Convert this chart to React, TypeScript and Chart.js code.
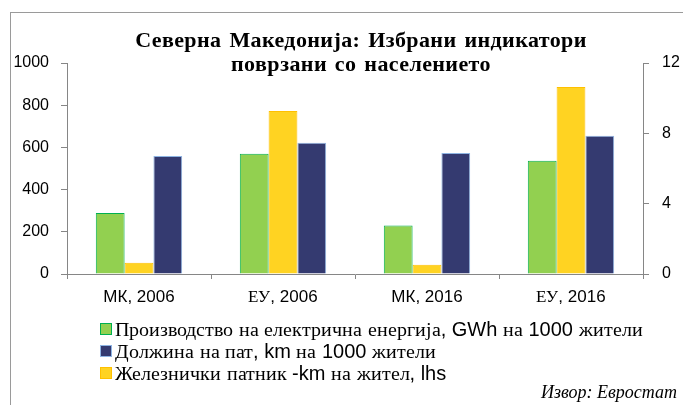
import React, { useEffect, useRef } from "react";
import { Chart, registerables } from "chart.js";

Chart.register(...registerables);

const categories = ["МК, 2006", "ЕУ, 2006", "МК, 2016", "ЕУ, 2016"];
const electricity = [3.47, 6.84, 2.76, 6.44]; // GWh per 1000 inhabitants (rhs)
const railway = [53, 772, 44, 886]; // passenger-km per inhabitant (lhs)
const roads = [6.71, 7.47, 6.88, 7.86]; // km per 1000 inhabitants (rhs)
const leftTicks = [0, 200, 400, 600, 800, 1000];
const rightTicks = [0, 4, 8, 12];

const seriesLabels = [
  "Производство на електрична енергија, GWh на 1000 жители",
  "Должина на пат, km на 1000 жители",
  "Железнички патник -km на жител, lhs",
];
const titleLines = ["Северна Македонија: Избрани индикатори", "поврзани со населението"];
const sourceText = "Извор: Евростат";

const GREEN = "#92d050";
const GREEN_B = "#00b050";
const BLUE = "#343a70";
const BLUE_B = "#8eb4e3";
const YELLOW = "#ffd322";
const YELLOW_B = "#ffc000";
const AXIS = "#868686";

const MIX = "CyrSerif, 'Liberation Sans', Arial, sans-serif";

export default function App() {
  const ref = useRef<HTMLCanvasElement | null>(null);

  useEffect(() => {
    let chart: Chart | null = null;
    let cancelled = false;
    const make = () => {
      if (cancelled || !ref.current) return;
      chart = new Chart(ref.current, {
        type: "bar",
        data: {
          labels: categories,
          datasets: [
            {
              label: seriesLabels[0],
              data: electricity,
              yAxisID: "y1",
              backgroundColor: GREEN,
              borderColor: GREEN_B,
              borderWidth: 1,
            },
            {
              label: seriesLabels[2],
              data: railway,
              yAxisID: "y",
              backgroundColor: YELLOW,
              borderColor: YELLOW_B,
              borderWidth: 1,
            },
            {
              label: seriesLabels[1],
              data: roads,
              yAxisID: "y1",
              backgroundColor: BLUE,
              borderColor: BLUE_B,
              borderWidth: 1,
            },
          ],
        },
        options: {
          responsive: false,
          animation: false,
          devicePixelRatio: 1,
          layout: { padding: { top: 63, left: 0, right: 0, bottom: 0 } },
          datasets: { bar: { categoryPercentage: 0.6, barPercentage: 1 } },
          plugins: { legend: { display: false }, title: { display: false }, tooltip: { enabled: false } },
          scales: {
            x: {
              grid: { display: true, drawOnChartArea: false, drawTicks: true, tickLength: 5, color: AXIS, offset: true },
              border: { display: true, color: AXIS },
              ticks: { color: "#000", font: { family: MIX, size: 17 }, padding: 8, maxRotation: 0 },
              afterFit: (s: any) => {
                s.height = 405 - 274;
              },
            },
            y: {
              position: "left",
              min: 0,
              max: 1000,
              afterBuildTicks: (s: any) => {
                s.ticks = leftTicks.map((v) => ({ value: v }));
              },
              grid: { drawOnChartArea: false, tickLength: 6, color: AXIS },
              border: { display: true, color: AXIS },
              ticks: {
                color: "#000",
                font: { family: "'Liberation Sans', Arial", size: 16 },
                padding: 12,
                callback: (v: any) => String(v),
              },
              afterFit: (s: any) => {
                s.width = 67;
              },
            },
            y1: {
              position: "right",
              min: 0,
              max: 12,
              afterBuildTicks: (s: any) => {
                s.ticks = rightTicks.map((v) => ({ value: v }));
              },
              grid: { drawOnChartArea: false, tickLength: 6, color: AXIS },
              border: { display: true, color: AXIS },
              ticks: {
                color: "#000",
                font: { family: "'Liberation Sans', Arial", size: 16 },
                padding: 13,
                callback: (v: any) => String(v),
              },
              afterFit: (s: any) => {
                s.width = 683 - 643;
              },
            },
          },
        },
      });
    };
    const fonts: any = (document as any).fonts;
    if (fonts && fonts.load) {
      fonts.load("17px CyrSerif", "ЕУ").then(make, make);
    } else {
      make();
    }
    return () => {
      cancelled = true;
      if (chart) chart.destroy();
    };
  }, []);

  const swatches = [
    { bg: GREEN, bd: GREEN_B },
    { bg: BLUE, bd: BLUE_B },
    { bg: YELLOW, bd: YELLOW_B },
  ];

  return (
    <div
      style={{
        position: "fixed",
        left: 0,
        top: 0,
        width: 683,
        height: 405,
        background: "#fff",
        overflow: "hidden",
      }}
    >
      <style>{`@font-face { font-family: "CyrSerif"; src: local("Liberation Serif"), local("LiberationSerif"); unicode-range: U+0400-0419, U+041B, U+041D-04FF; }`}</style>
      <div
        style={{
          position: "absolute",
          left: 10,
          top: 12,
          width: 700,
          height: 420,
          borderLeft: "1.5px solid #9a9a9a",
          borderTop: "1.5px solid #9a9a9a",
        }}
      />
      <canvas ref={ref} width={683} height={405} style={{ position: "absolute", left: 0, top: 0, width: 683, height: 405 }} />
      <div
        style={{
          position: "absolute",
          left: 60,
          width: 602,
          top: 28,
          textAlign: "center",
          fontFamily: "'Liberation Serif', 'Times New Roman', serif",
          fontWeight: "bold",
          fontSize: 22,
          lineHeight: "24px",
          letterSpacing: "0.4px",
          wordSpacing: "2px",
          color: "#000",
        }}
      >
        {titleLines.map((t, i) => (
          <div key={i}>{t}</div>
        ))}
      </div>
      <div style={{ position: "absolute", left: 100, top: 318 }}>
        {seriesLabels.map((t, i) => (
          <div
            key={i}
            style={{
              display: "flex",
              alignItems: "center",
              height: 22,
              fontFamily: MIX,
              fontSize: 20,
              color: "#000",
              whiteSpace: "nowrap",
            }}
          >
            <span
              style={{
                display: "inline-block",
                width: 10,
                height: 10,
                background: swatches[i].bg,
                border: `1.5px solid ${swatches[i].bd}`,
                marginRight: 3,
              }}
            />
            <span>{t}</span>
          </div>
        ))}
      </div>
      <div
        style={{
          position: "absolute",
          right: 6,
          top: 382,
          fontFamily: "'Liberation Serif', 'Times New Roman', serif",
          fontStyle: "italic",
          fontSize: 18,
          color: "#000",
          whiteSpace: "nowrap",
        }}
      >
        {sourceText}
      </div>
    </div>
  );
}
